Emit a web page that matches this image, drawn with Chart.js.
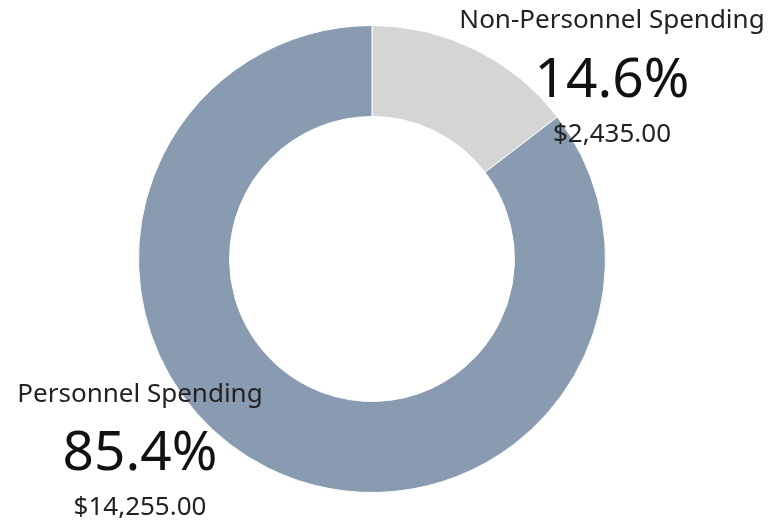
<!DOCTYPE html>
<html>
<head>
<meta charset="utf-8">
<script src="https://cdn.jsdelivr.net/npm/chart.js@4"></script>
<style>
  html, body { margin: 0; padding: 0; background: #fff; }
  #wrap { width: 775px; height: 522px; }
</style>
</head>
<body>
<div id="wrap"><canvas id="spend" width="775" height="522"></canvas></div>
<script>
  "use strict";

  // Spending split
  var categories = ["Non-Personnel Spending", "Personnel Spending"];
  var amounts = [2435, 14255];
  var sliceColors = ["#d5d5d5", "#889bb0"];

  var FONT = "'Noto Sans', 'Open Sans', sans-serif";

  function money(v) {
    return "$" + v.toLocaleString("en-US", { minimumFractionDigits: 2, maximumFractionDigits: 2 });
  }

  // Where each label block sits: centre x and the three baselines
  var labelSpots = [
    { x: 612, name: 28, pct: 97, amt: 142 },
    { x: 140, name: 402, pct: 470, amt: 515 },
  ];

  // Draw the Tableau-style labels (name / percent / amount)
  var sliceLabels = {
    id: "sliceLabels",
    afterDatasetsDraw: function (chart) {
      var ctx = chart.ctx;
      var data = chart.data.datasets[0].data;
      var total = data.reduce(function (a, b) { return a + b; }, 0);
      ctx.save();
      ctx.textAlign = "center";
      ctx.textBaseline = "alphabetic";
      data.forEach(function (v, i) {
        var s = labelSpots[i];
        ctx.fillStyle = "#222";
        ctx.font = "26px " + FONT;
        ctx.fillText(chart.data.labels[i], s.x, s.name);
        ctx.fillStyle = "#111";
        ctx.font = "55px " + FONT;
        ctx.fillText((v / total * 100).toFixed(1) + "%", s.x, s.pct);
        ctx.fillStyle = "#222";
        ctx.font = "26px " + FONT;
        ctx.fillText(money(v), s.x, s.amt);
      });
      ctx.restore();
    },
  };

  new Chart(document.getElementById("spend"), {
    type: "doughnut",
    data: {
      labels: categories,
      datasets: [
        {
          data: amounts,
          backgroundColor: sliceColors,
          borderColor: "#fff",
          borderWidth: 1,
        },
      ],
    },
    options: {
      responsive: false,
      animation: false,
      cutout: "61%",
      layout: { padding: { top: 25, bottom: 29, left: 138, right: 169 } },
      plugins: {
        legend: { display: false },
        tooltip: { enabled: false },
      },
    },
    plugins: [sliceLabels],
  });
</script>
</body>
</html>
